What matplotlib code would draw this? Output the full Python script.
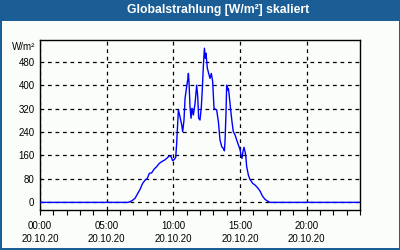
import numpy as np
import matplotlib.pyplot as plt
from matplotlib.patches import Rectangle
from matplotlib.ticker import MultipleLocator

# Globalstrahlung 20.10.20, Stunde -> W/m²
hours = [0.0, 6.6, 6.88, 7.13, 7.3, 7.5, 7.7, 7.88, 8.05, 8.2, 8.38, 8.55, 8.75, 8.95,
         9.13, 9.33, 9.5, 9.7, 9.83, 9.95, 10.08, 10.18, 10.25, 10.3, 10.38, 10.5,
         10.63, 10.7, 10.8, 10.88, 11.0, 11.08, 11.13, 11.18, 11.25, 11.33, 11.4,
         11.5, 11.63, 11.75, 11.83, 11.9, 12.0, 12.1, 12.17, 12.25, 12.33, 12.4,
         12.45, 12.55, 12.65, 12.75, 12.85, 12.95, 13.05, 13.25, 13.38, 13.5, 13.63,
         13.75, 13.83, 13.88, 13.95, 14.0, 14.08, 14.13, 14.2, 14.3, 14.4, 14.5,
         14.63, 14.75, 14.88, 15.0, 15.08, 15.15, 15.22, 15.3, 15.38, 15.43, 15.5,
         15.63, 15.75, 15.95, 16.13, 16.3, 16.5, 16.68, 16.88, 17.05, 17.25, 24.0]
values = [0, 0, 5, 14, 28, 44, 65, 76, 82, 99, 101, 113, 122, 133,
          139, 144, 150, 159, 156, 142, 147, 154, 201, 247, 315, 292,
          264, 241, 281, 355, 395, 418, 440, 406, 326, 287, 321,
          298, 338, 400, 361, 287, 281, 326, 383, 463, 526, 492,
          509, 458, 440, 423, 440, 412, 321, 315, 275, 213, 190,
          184, 176, 213, 304, 400, 383, 389, 361, 315, 275, 241,
          230, 213, 196, 181, 161, 150, 173, 188, 173, 161, 122,
          93, 78, 65, 59, 51, 39, 22, 10, 5, 0, 0]

y_ticks = [0, 80, 160, 240, 320, 400, 480]
x_ticks = [0, 5, 10, 15, 20]
x_labels = ["00:00\n20.10.20", "05:00\n20.10.20", "10:00\n20.10.20",
            "15:00\n20.10.20", "20:00\n20.10.20"]

frame = '#1b5e95'
bg = '#fbfdfb'

plt.rcParams['font.family'] = ['Liberation Sans', 'DejaVu Sans']

fig = plt.figure(figsize=(4, 2.5), dpi=100, facecolor=frame)
fig.add_artist(Rectangle((2/400, 2/250), 397/400, 227/250, transform=fig.transFigure,
                         facecolor=bg, edgecolor='none', zorder=0))
fig.text(218/400, 1 - 10/250, "Globalstrahlung [W/m²] skaliert", color='white',
         fontsize=8.8, fontweight='bold', ha='center', va='center')
fig.text(35/400, 1 - 46.5/250, "W/m²", fontsize=7, ha='right', va='center')

ax = fig.add_axes([40/400, 40/250, 320/400, 170/250], facecolor=bg)
ax.plot(hours, values, color='#0000ff', lw=1, zorder=3)

ax.set_xlim(0, 24)
ax.set_ylim(-26, 554)
ax.set_yticks(y_ticks)
ax.set_xticks(x_ticks)
ax.set_xticklabels(x_labels, linespacing=1.4)
ax.xaxis.set_minor_locator(MultipleLocator(1))
ax.grid(True, color='black', linestyle=(0, (3, 3)), lw=0.9)
ax.tick_params(axis='y', length=0, pad=4, labelsize=7)
ax.tick_params(axis='x', which='both', direction='out', length=3.5, width=0.8,
               labelsize=7, pad=4.5)
for s in ax.spines.values():
    s.set_linewidth(1)

plt.savefig("out.png", dpi=100, facecolor=frame)
